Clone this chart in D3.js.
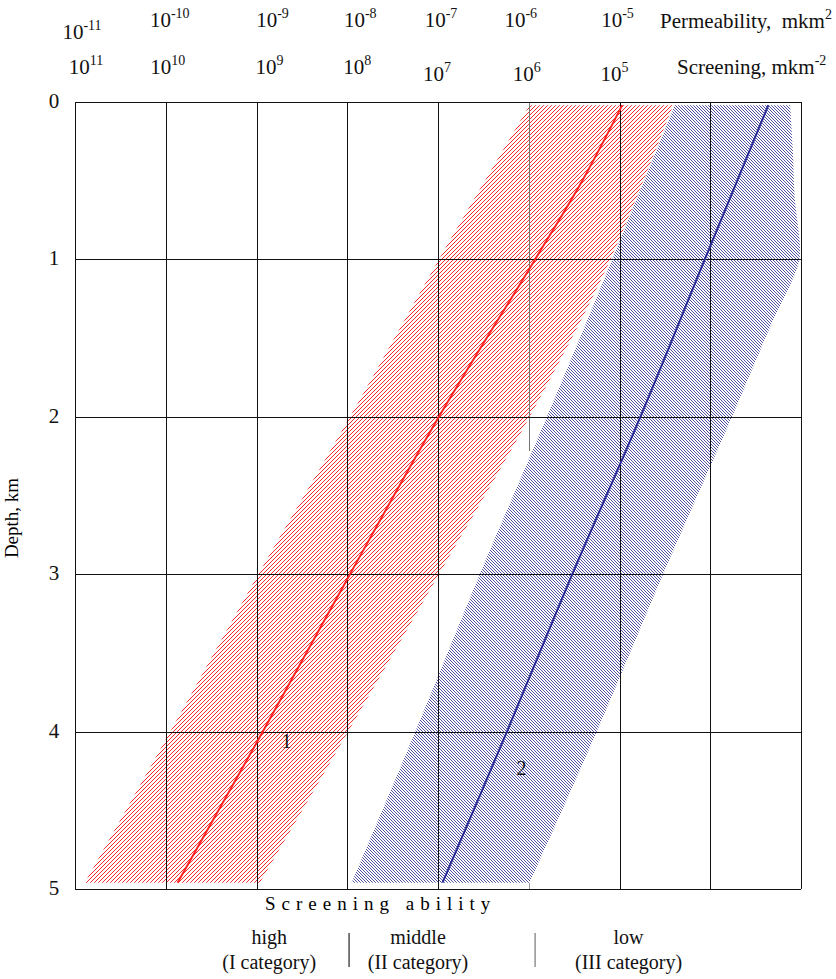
<!DOCTYPE html>
<html lang="en">
<head>
    <meta charset="UTF-8">
    <title>Screening ability vs depth</title>
    <script src="https://d3js.org/d3.v7.min.js"></script>
    <style>
        body { margin: 0; background: #fff; }
        svg { display: block; font-family: "Liberation Serif", "Times New Roman", serif; }
        .grid line { stroke: #111; stroke-width: 1.1px; shape-rendering: crispEdges; }
        .tick-label { font-size: 21px; fill: #111; }
        .top-label { font-size: 21px; fill: #111; }
        .cat { font-size: 20px; fill: #111; text-anchor: middle; }
    </style>
</head>
<body>
    <div id="chart"></div>
    <script>
        // Axis ticks (log10 of permeability, mkm^2) and depth, km
        const gridExp = [-11, -10, -9, -8, -7, -6, -5, -4, -3];
        const permExp = [-11, -10, -9, -8, -7, -6, -5];
        const screenExp = [11, 10, 9, 8, 7, 6, 5];
        const depthTicks = [0, 1, 2, 3, 4, 5];

        // Curve 1 (red): median and band, log10 permeability per depth
        const redMidDepth = [0.02, 0.5, 1, 2, 3, 4, 4.96];
        const redMid = [-4.97, -5.41, -5.93, -6.99, -7.97, -8.93, -9.87];
        const redDepth = [0.02, 1, 2, 3, 4, 4.96];
        const redLow = [-5.99, -6.99, -7.97, -8.98, -9.95, -10.89];
        const redHigh = [-4.41, -5.10, -5.99, -6.99, -7.99, -8.96];

        // Curve 2 (blue)
        const blueDepth = [0.02, 1, 2, 3, 4, 4.96];
        const blueMid = [-3.36, -4.06, -4.77, -5.52, -6.24, -6.95];
        const blueLow = [-4.39, -5.08, -5.80, -6.54, -7.25, -7.95];
        const blueHighDepth = [0.02, 0.3, 0.6, 0.95, 1.05, 1.43, 2, 3, 4, 4.96];
        const blueHigh = [-3.12, -3.09, -3.07, -3.01, -3.04, -3.34, -3.76, -4.52, -5.25, -5.99];

        // Screening ability categories
        const catNames = ["high", "middle", "low"];
        const catSub = ["(I category)", "(II category)", "(III category)"];
        const catCenter = [-8.86, -7.22, -4.90];
        const catBounds = [-7.98, -5.93];

        // Layout
        const W = 836, H = 979;
        const margin = {top: 102, right: 35, bottom: 90, left: 75};
        const width = W - margin.left - margin.right;
        const height = H - margin.top - margin.bottom;
        // small per-label nudges [dx, dy] so the labels sit like in the original
        const permNudge = [[7, 12], [4, 0], [16, 0], [13, 0], [3, 0], [-8, 0], [-2, 0]];
        const screenNudge = [[11, 0], [2, 0], [13, 0], [10, 0], [-1, 7], [-2, 7], [-5, 7]];

        const svg = d3.select("#chart").append("svg")
            .attr("width", W)
            .attr("height", H);

        const g = svg.append("g")
            .attr("transform", "translate(" + margin.left + "," + margin.top + ")");

        // Scales
        const x = d3.scaleLog().domain([1e-11, 1e-3]).range([0, width]);
        const y = d3.scaleLinear().domain([0, 5]).range([0, height]);
        const px = e => x(Math.pow(10, e));

        // Hatch patterns
        const defs = svg.append("defs");
        defs.append("pattern")
            .attr("id", "hatchRed")
            .attr("patternUnits", "userSpaceOnUse")
            .attr("width", 4).attr("height", 4)
            .append("path")
            .attr("d", "M-1,1 L1,-1 M0,4 L4,0 M3,5 L5,3")
            .attr("stroke", "#f52a2a")
            .attr("stroke-width", 1);
        defs.append("pattern")
            .attr("id", "hatchBlue")
            .attr("patternUnits", "userSpaceOnUse")
            .attr("width", 3).attr("height", 3)
            .append("path")
            .attr("d", "M-1,2 L1,4 M0,0 L3,3 M2,-1 L4,1")
            .attr("stroke", "#2e2e92")
            .attr("stroke-width", 0.85);
        defs.append("clipPath")
            .attr("id", "plotClip")
            .append("rect")
            .attr("width", width).attr("height", height);

        // Line generator: x from log permeability, y from depth
        const edge = d3.line()
            .x(d => px(d[1]))
            .y(d => y(d[0]))
            .curve(d3.curveCatmullRom);

        const zip = (a, b) => a.map((v, i) => [v, b[i]]);

        function band(leftPts, rightPts) {
            const left = edge(leftPts);
            const right = edge(rightPts.slice().reverse());
            return left + right.replace(/^M/, "L") + "Z";
        }

        const bands = g.append("g").attr("clip-path", "url(#plotClip)");

        bands.append("path")
            .attr("d", band(zip(redDepth, redLow), zip(redDepth, redHigh)))
            .attr("fill", "url(#hatchRed)");

        bands.append("path")
            .attr("d", band(zip(blueDepth, blueLow), zip(blueHighDepth, blueHigh)))
            .attr("fill", "url(#hatchBlue)");

        // Grid
        const grid = g.append("g").attr("class", "grid");
        grid.selectAll(".v")
            .data(gridExp.filter(e => e !== -6))
            .enter().append("line")
            .attr("x1", d => Math.round(px(d)) + 0.5).attr("x2", d => Math.round(px(d)) + 0.5)
            .attr("y1", 0).attr("y2", height);
        // the 10^-6 line is broken in the original drawing
        grid.append("line")
            .attr("x1", Math.round(px(-6)) + 0.5).attr("x2", Math.round(px(-6)) + 0.5)
            .attr("y1", 0).attr("y2", y(2.22))
            .style("stroke", "#777").style("stroke-width", "1px");
        grid.append("line")
            .attr("x1", Math.round(px(-6)) + 0.5).attr("x2", Math.round(px(-6)) + 0.5)
            .attr("y1", y(4.96)).attr("y2", height)
            .style("stroke", "#999");
        grid.selectAll(".h")
            .data(depthTicks)
            .enter().append("line")
            .attr("x1", 0).attr("x2", width)
            .attr("y1", d => Math.round(y(d)) + 0.5).attr("y2", d => Math.round(y(d)) + 0.5);

        // Median curves
        g.append("path")
            .attr("d", edge(zip(redMidDepth, redMid)))
            .attr("fill", "none")
            .attr("stroke", "#ff2424")
            .attr("stroke-width", 2);

        g.append("path")
            .attr("d", edge(zip(blueDepth, blueMid)))
            .attr("fill", "none")
            .attr("stroke", "#2a2a96")
            .attr("stroke-width", 2);

        // Curve numbers
        g.append("text").attr("class", "tick-label")
            .attr("x", px(-8.67)).attr("y", y(4.06) + 7)
            .attr("text-anchor", "middle").style("font-size", "20px")
            .text("1");
        g.append("text").attr("class", "tick-label")
            .attr("x", px(-6.08)).attr("y", y(4.23) + 7)
            .attr("text-anchor", "middle").style("font-size", "20px")
            .text("2");

        // Depth labels
        g.selectAll(".depth")
            .data(depthTicks)
            .enter().append("text")
            .attr("class", "tick-label")
            .attr("x", -21)
            .attr("y", d => y(d) + 6)
            .attr("text-anchor", "middle")
            .text(d => d);

        svg.append("text")
            .attr("transform", "translate(18,518) rotate(-90)")
            .attr("text-anchor", "middle")
            .style("font-size", "19px")
            .text("Depth, km");

        // Top labels: permeability and screening
        function power(sel, base, exp, nudge, baseline) {
            sel.selectAll(null)
                .data(exp)
                .enter().append("text")
                .attr("class", "top-label")
                .attr("text-anchor", "middle")
                .attr("x", (d, i) => margin.left + px(base(d)) + nudge[i][0])
                .attr("y", (d, i) => baseline + nudge[i][1])
                .each(function (d) {
                    const t = d3.select(this);
                    t.append("tspan").text("10");
                    t.append("tspan").attr("dy", -9).style("font-size", "14px").text(d);
                });
        }
        power(svg, d => d, permExp, permNudge, 27);
        power(svg, d => -d, screenExp, screenNudge, 74);

        const perm = svg.append("text").attr("class", "top-label").attr("x", 660).attr("y", 28);
        perm.append("tspan").text("Permeability,\u00a0 mkm");
        perm.append("tspan").attr("dy", -9).style("font-size", "14px").text("2");

        const scr = svg.append("text").attr("class", "top-label").attr("x", 677).attr("y", 74);
        scr.append("tspan").text("Screening, mkm");
        scr.append("tspan").attr("dy", -9).style("font-size", "14px").text("-2");

        // Bottom: screening ability categories
        svg.append("text")
            .attr("x", 265).attr("y", 910)
            .style("font-size", "19px")
            .style("letter-spacing", "6px")
            .text("Screening ability");

        svg.selectAll(".catName")
            .data(catNames)
            .enter().append("text")
            .attr("class", "cat")
            .attr("x", (d, i) => margin.left + px(catCenter[i]))
            .attr("y", 944)
            .text(d => d);

        svg.selectAll(".catSub")
            .data(catSub)
            .enter().append("text")
            .attr("class", "cat")
            .attr("x", (d, i) => margin.left + px(catCenter[i]))
            .attr("y", 969)
            .text(d => d);

        svg.selectAll(".catSep")
            .data(catBounds)
            .enter().append("line")
            .attr("x1", d => margin.left + px(d)).attr("x2", d => margin.left + px(d))
            .attr("y1", 933).attr("y2", 967)
            .attr("stroke", (d, i) => i === 0 ? "#222" : "#777")
            .attr("stroke-width", 1.2);
    </script>
</body>
</html>
